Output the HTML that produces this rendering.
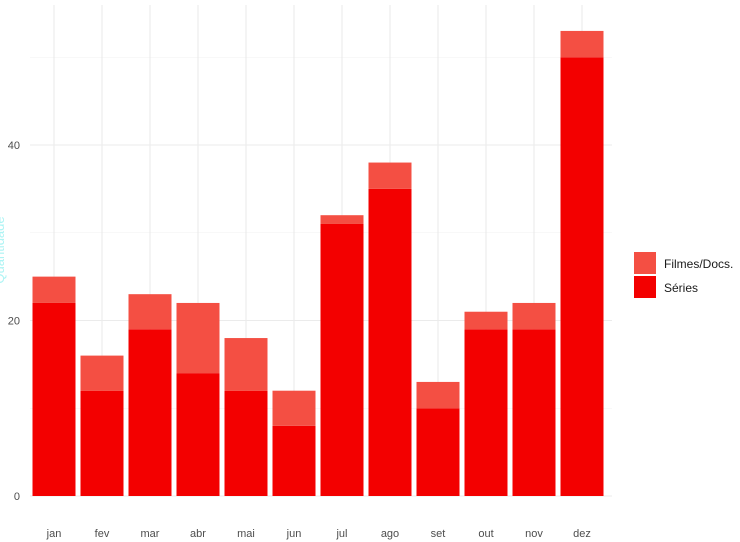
<!DOCTYPE html>
<html><head><meta charset="utf-8"><style>
body{margin:0;background:#fff;}
svg{display:block;font-family:"Liberation Sans",sans-serif;}
</style></head><body>
<svg id="chart" width="740" height="542" viewBox="0 0 740 542">
<g id="grid"></g>
<g id="bars"></g>
<g id="axes"></g>
<text transform="translate(4,250) rotate(-90)" text-anchor="middle" font-size="13" fill="#aef4f4">Quantidade</text>
<g>
<rect x="634" y="252" width="22" height="22" fill="#f44f43"/>
<text x="664" y="268" font-size="12" fill="#1a1a1a">Filmes/Docs.</text>
<rect x="634" y="276" width="22" height="22" fill="#f30000"/>
<text x="664" y="292" font-size="12" fill="#1a1a1a">Séries</text>
</g>
</svg>
<script>
const months = ["jan","fev","mar","abr","mai","jun","jul","ago","set","out","nov","dez"];
const series = [22,12,19,14,12,8,31,35,10,19,19,50];
const filmes = [3,4,4,8,6,4,1,3,3,2,3,3];
const yTicks = [0,20,40];
const yMinor = [10,30,50];
const NS="http://www.w3.org/2000/svg";
const y0=496, pxPerUnit=8.775, x0=54, step=48, bw=43, leftX=30, rightX=612, topY=5;
const yS=v=>y0-v*pxPerUnit;
const xS=i=>x0+i*step;
function mk(tag,attrs,parent){const e=document.createElementNS(NS,tag);for(const k in attrs)e.setAttribute(k,attrs[k]);parent.appendChild(e);return e;}
const grid=document.getElementById('grid'),bars=document.getElementById('bars'),axes=document.getElementById('axes');
yMinor.forEach(v=>{const l=mk('line',{x1:leftX,x2:rightX,y1:yS(v),y2:yS(v),stroke:'#f0f0f0','stroke-width':0.6},grid);

});
yTicks.forEach(v=>{const l=mk('line',{x1:leftX,x2:rightX,y1:yS(v),y2:yS(v),stroke:'#ebebeb','stroke-width':1.1},grid);


const t=mk('text',{x:20,y:yS(v)+4,'text-anchor':'end','font-size':11,fill:'#4d4d4d'},axes);t.textContent=v;

});
months.forEach((m,i)=>{const l=mk('line',{x1:xS(i),x2:xS(i),y1:topY,y2:y0,stroke:'#ebebeb','stroke-width':1.1},grid);


const t=mk('text',{x:xS(i),y:537,'text-anchor':'middle','font-size':11,fill:'#4d4d4d'},axes);t.textContent=m;


const b1=mk('rect',{x:xS(i)-bw/2,y:yS(series[i]),width:bw,height:yS(0)-yS(series[i]),fill:'#f30000'},bars);


const tot=series[i]+filmes[i];
const b2=mk('rect',{x:xS(i)-bw/2,y:yS(tot),width:bw,height:yS(series[i])-yS(tot),fill:'#f44f43'},bars);

});
</script>
</body></html>
